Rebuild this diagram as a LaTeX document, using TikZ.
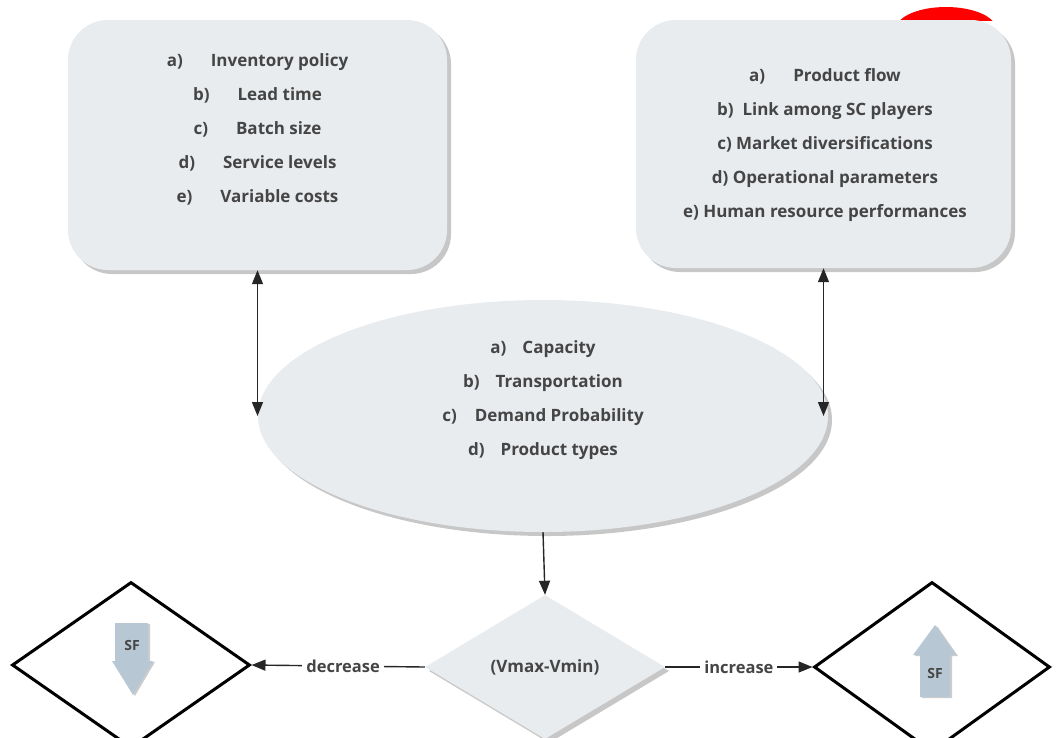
\documentclass[tikz,border=0pt]{standalone}
\usepackage{fontspec}
\setmainfont{Open Sans}
\usetikzlibrary{arrows.meta, shapes.geometric, shadows, positioning}
\definecolor{boxgray}{HTML}{E9ECEF}
\definecolor{txtgray}{HTML}{454545}
\definecolor{sfblue}{HTML}{B7C7D3}

\begin{document}
\begin{tikzpicture}[x=1pt, y=-1pt,
    >={Triangle[length=14pt,width=11pt]},
    every node/.style={font=\bfseries\fontsize{17}{34}\selectfont, text=txtgray},
    softshadow/.style={drop shadow={shadow xshift=4pt, shadow yshift=-4pt,
        fill=black!55, opacity=0.4}},
    listbox/.style={fill=boxgray, rounded corners=40pt, inner sep=0pt, softshadow},
    listtext/.style={align=center, inner sep=0pt},
    decision/.style={diamond, fill=boxgray, inner sep=0pt, softshadow},
    outcome/.style={diamond, draw=black, line width=3pt, fill=white, inner sep=0pt},
    sfarrow/.style={fill=sfblue, drop shadow={shadow xshift=2pt, shadow yshift=-1pt,
        fill=black!50, opacity=0.4}},
    sftext/.style={font=\bfseries\fontsize{14}{16}\selectfont, inner sep=0pt},
    link/.style={draw=black!85, line width=1.4pt},
    flowlabel/.style={fill=white, inner sep=4pt, font=\bfseries\fontsize{16.5}{20}\selectfont}]

    \useasboundingbox (0,0) rectangle (1056,737);

    % red mark behind the right box
    \begin{scope}
        \clip (880,0) rectangle (1020,20);
        \fill[red] (946,29) ellipse [x radius=50, y radius=22];
    \end{scope}

    % parameter boxes
    \node[listbox, minimum width=379pt, minimum height=250pt] (lbox) at (257.5,145) {};
    \node[listtext] (ltext) at (257.5,129) {%
        a)\hspace{28pt}Inventory policy\\
        b)\hspace{28pt}Lead time\\
        c)\hspace{28pt}Batch size\\
        d)\hspace{28pt}Service levels\\
        e)\hspace{28pt}Variable costs};

    \node[listbox, minimum width=375pt, minimum height=248pt] (rbox) at (823.5,144) {};
    \node[listtext] (rtext) at (825,145.5) {%
        a)\hspace{28pt}Product flow\\
        b)\ \ Link among SC players\\
        c) Market diversifications\\
        d) Operational parameters\\
        e) Human resource performances};

    % network ellipse
    \node[ellipse, fill=boxgray, inner sep=0pt, softshadow,
        minimum width=570pt, minimum height=232pt] (net) at (543,416) {};
    \node[listtext] (ntext) at (543,400) {%
        a)\hspace{16pt}Capacity\\
        b)\hspace{16pt}Transportation\\
        c)\hspace{18pt}Demand Probability\\
        d)\hspace{16pt}Product types};

    % decision and outcomes
    \node[decision, minimum width=240pt, minimum height=144pt] (range) at (545,667) {(Vmax-Vmin)};
    \node[outcome, minimum width=238pt, minimum height=166pt] (low) at (131,665) {};
    \node[outcome, minimum width=236pt, minimum height=170pt] (high) at (932,667) {};

    % SF arrows
    \fill[sfarrow] (115,623) -- (148,623) -- (148,661) -- (153,661) -- (133,695)
        -- (112,661) -- (115,661) -- cycle;
    \node[sftext] (sfdown) at (132,645) {SF};
    \fill[sfarrow] (920,697) -- (950,697) -- (950,655) -- (956,655) -- (935,625)
        -- (913,655) -- (920,655) -- cycle;
    \node[sftext] (sfup) at (935,673) {SF};

    % connectors
    \draw[link, <->] (lbox.south) -- (lbox.south |- net.west);
    \draw[link, <->] (rbox.south) -- (rbox.south |- net.east);
    \draw[link, ->] (net.south) -- (range.north);
    \draw[link, ->] (range.west) -- node[flowlabel, xshift=5pt] {decrease} (low.east);
    \draw[link, ->] (range.east) -- node[flowlabel] {increase} (high.west);
\end{tikzpicture}
\end{document}
